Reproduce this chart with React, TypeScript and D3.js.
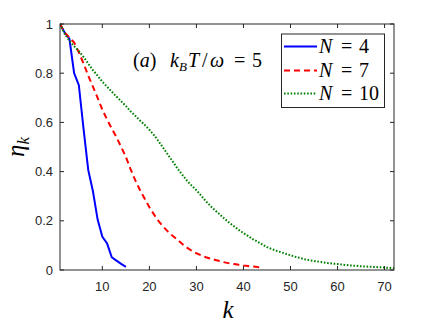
import React from 'react';
import * as d3 from 'd3';

// eta_k for k = 1..n
const etaN4 = [1.0, 0.965, 0.94, 0.80, 0.752, 0.575, 0.407, 0.32, 0.205, 0.135, 0.108, 0.052, 0.038, 0.025, 0.013];
const etaN7 = [1.0, 0.965, 0.945, 0.925, 0.885, 0.84, 0.79, 0.745, 0.70, 0.652, 0.612, 0.575, 0.54, 0.50, 0.46,
  0.41, 0.365, 0.325, 0.29, 0.255, 0.225, 0.198, 0.175, 0.155, 0.138, 0.123, 0.106, 0.091, 0.078, 0.068,
  0.06, 0.052, 0.046, 0.041, 0.036, 0.031, 0.027, 0.024, 0.021, 0.018, 0.016, 0.014, 0.012, 0.011];
const etaN10 = [1.0, 0.96, 0.932, 0.91, 0.89, 0.866, 0.84, 0.812, 0.79, 0.765, 0.745, 0.725, 0.705, 0.686, 0.667,
  0.645, 0.627, 0.608, 0.59, 0.57, 0.548, 0.522, 0.495, 0.467, 0.44, 0.412, 0.387, 0.363, 0.343, 0.324,
  0.303, 0.28, 0.26, 0.242, 0.225, 0.208, 0.192, 0.178, 0.163, 0.15, 0.138, 0.125, 0.115, 0.104, 0.093,
  0.085, 0.078, 0.072, 0.066, 0.06, 0.054, 0.049, 0.044, 0.04, 0.037, 0.034, 0.031, 0.028, 0.026, 0.024,
  0.022, 0.02, 0.018, 0.017, 0.015, 0.014, 0.013, 0.012, 0.011, 0.01, 0.009, 0.008];
const seriesNames = ['4', '7', '10'];
const xTicks = [10, 20, 30, 40, 50, 60, 70];
const yTicks = [0, 0.2, 0.4, 0.6, 0.8, 1];

const width = 436;
const height = 327;
const left = 60, right = 394, top = 24, bottom = 270;

export default function App() {
  const x = d3.scaleLinear().domain([1, 72]).range([left, right]);
  const y = d3.scaleLinear().domain([0, 1]).range([bottom, top]);
  const line = d3.line<number>().x((d, i) => x(i + 1)).y(d => y(d));

  const styles = [
    { color: '#0000ff', dash: undefined },
    { color: '#ff0000', dash: '6 4' },
    { color: '#008000', dash: '1.6 1.7' },
  ];
  const data = [etaN4, etaN7, etaN10];
  const axisColor = '#262626';
  const tickFont = { fontFamily: "'Liberation Sans', Arial, sans-serif", fontSize: 13 };
  const math = { fontFamily: "'Liberation Serif', 'Times New Roman', serif" };
  const it = { fontStyle: 'italic' as const };
  const legendY = [46.5, 70.5, 93.5];

  return (
    <svg width={width} height={height} style={{ position: 'absolute', left: 0, top: 0 }}>
      <rect x={0} y={0} width={width} height={height} fill="#fff" />
      <defs>
        <clipPath id="plotClip">
          <rect x={left} y={top - 2} width={right - left} height={bottom - top + 2} />
        </clipPath>
      </defs>

      {/* curves */}
      <g clipPath="url(#plotClip)">
        {data.map((d, i) => (
          <path key={i} d={line(d) || ''} fill="none" stroke={styles[i].color} strokeWidth={2}
                strokeDasharray={styles[i].dash} strokeLinejoin="round" />
        ))}
      </g>

      {/* box and ticks */}
      <rect x={left} y={top} width={right - left} height={bottom - top} fill="none" stroke={axisColor} strokeWidth={1} />
      {xTicks.map(t => (
        <g key={'x' + t}>
          <line x1={x(t)} x2={x(t)} y1={bottom} y2={bottom - 4} stroke={axisColor} />
          <line x1={x(t)} x2={x(t)} y1={top} y2={top + 4} stroke={axisColor} />
          <text x={x(t)} y={291} textAnchor="middle" fill={axisColor} style={tickFont}>{t}</text>
        </g>
      ))}
      {yTicks.map(t => (
        <g key={'y' + t}>
          <line x1={left} x2={left + 4} y1={y(t)} y2={y(t)} stroke={axisColor} />
          <line x1={right} x2={right - 4} y1={y(t)} y2={y(t)} stroke={axisColor} />
          <text x={53} y={y(t) + 4.5} textAnchor="end" fill={axisColor} style={tickFont}>{t}</text>
        </g>
      ))}

      {/* axis labels */}
      <text x={228} y={318} textAnchor="middle" style={{ ...math, ...it, fontSize: 25 }} fill="#000">k</text>
      <text transform="translate(24,147) rotate(-90)" textAnchor="middle" style={{ ...math, ...it, fontSize: 25 }} fill="#000">
        η<tspan dy={5} style={{ fontSize: 17 }}>k</tspan>
      </text>

      {/* annotation */}
      <text y={67} style={{ ...math, fontSize: 20 }} fill="#000">
        <tspan x={133}>(</tspan><tspan style={it}>a</tspan><tspan>)</tspan>
        <tspan x={170} style={it}>k</tspan>
        <tspan x={179} dy={4} style={{ ...it, fontSize: 13 }}>B</tspan>
        <tspan x={188} dy={-4} style={it}>T</tspan>
        <tspan x={202}>/</tspan>
        <tspan x={210} style={it}>ω</tspan>
        <tspan x={234}>=</tspan>
        <tspan x={252}>5</tspan>
      </text>

      {/* legend */}
      <rect x={281.5} y={34} width={103} height={73.5} fill="#fff" stroke={axisColor} strokeWidth={1} />
      {seriesNames.map((n, i) => (
        <g key={n}>
          <line x1={284} x2={317} y1={legendY[i]} y2={legendY[i]} stroke={styles[i].color} strokeWidth={2}
                strokeDasharray={styles[i].dash} />
          <text y={legendY[i] + 6.5} style={{ ...math, fontSize: 20 }} fill="#000">
            <tspan x={319} style={it}>N</tspan>
            <tspan x={341}>=</tspan>
            <tspan x={359}>{n}</tspan>
          </text>
        </g>
      ))}
    </svg>
  );
}
